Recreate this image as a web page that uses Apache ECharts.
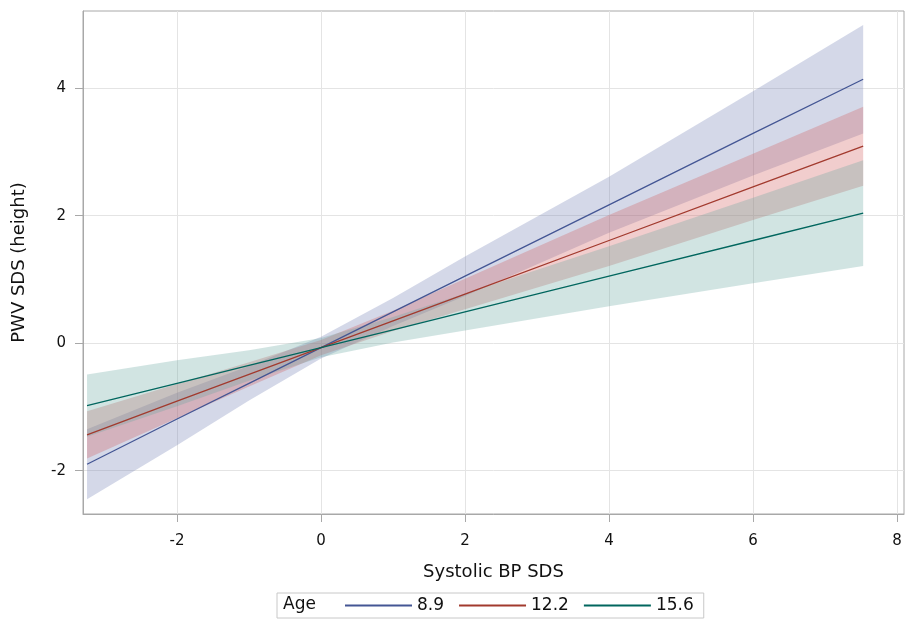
<!DOCTYPE html>
<html><head><meta charset="utf-8">
<script src="https://cdn.jsdelivr.net/npm/echarts@6/dist/echarts.min.js"></script>
<style>html,body{margin:0;padding:0;background:#fff}#c{width:908px;height:627px}</style>
</head><body><div id="c"></div>
<script>
// ---- data ----
const xValues = [-3.25, -2, -1, 0, 1, 2, 4, 6, 7.53];

const age89Fit   = [-1.90, -1.19, -0.63, -0.07, 0.49, 1.05, 2.17, 3.29, 4.14];
const age89Lower = [-2.45, -1.60, -0.90, -0.24, 0.27, 0.74, 1.73, 2.63, 3.29];
const age89Upper = [-1.35, -0.78, -0.36, 0.10, 0.71, 1.36, 2.61, 3.95, 4.99];

const age122Fit   = [-1.44, -0.91, -0.49, -0.07, 0.35, 0.77, 1.61, 2.45, 3.09];
const age122Lower = [-1.81, -1.18, -0.68, -0.19, 0.19, 0.53, 1.21, 1.93, 2.47];
const age122Upper = [-1.07, -0.64, -0.30, 0.05, 0.51, 1.01, 2.01, 2.97, 3.71];

const age156Fit   = [-0.98, -0.63, -0.35, -0.07, 0.21, 0.49, 1.05, 1.61, 2.04];
const age156Lower = [-1.47, -0.99, -0.59, -0.22, 0.01, 0.20, 0.58, 0.94, 1.21];
const age156Upper = [-0.49, -0.27, -0.11, 0.08, 0.41, 0.78, 1.52, 2.28, 2.87];

const ageNames = ['8.9', '12.2', '15.6'];
const xTicks = [-2, 0, 2, 4, 6, 8];
const yTicks = [-2, 0, 2, 4];
const xTitle = 'Systolic BP SDS';
const yTitle = 'PWV SDS (height)';
const legendTitle = 'Age';

// ---- styling ----
const lineColors = ['#445694', '#A23A2E', '#01665E'];
const bandColors = ['rgba(111,126,179,0.30)', 'rgba(208,91,91,0.30)', 'rgba(102,165,160,0.30)'];
const FONT = '"DejaVu Sans", Verdana, sans-serif';

function band(name, lower, upper, color) {
  return {
    type: 'custom', name: name, silent: true, z: 1,
    data: xValues.map((x, i) => [x, lower[i], upper[i]]),
    encode: { x: 0, y: [1, 2] },
    renderItem: function (params, api) {
      if (params.dataIndex !== 0) return null;
      const pts = [];
      for (let i = 0; i < xValues.length; i++) pts.push(api.coord([xValues[i], upper[i]]));
      for (let i = xValues.length - 1; i >= 0; i--) pts.push(api.coord([xValues[i], lower[i]]));
      return { type: 'polygon', shape: { points: pts }, style: { fill: color, stroke: null } };
    }
  };
}
function fit(name, values, color) {
  return {
    type: 'line', name: name, z: 5, showSymbol: false, symbol: 'none', silent: true,
    data: xValues.map((x, i) => [x, values[i]]),
    lineStyle: { color: color, width: 1.3 }, itemStyle: { color: color }
  };
}

const chart = echarts.init(document.getElementById('c'), null, { renderer: 'canvas' });
chart.setOption({
  animation: false,
  backgroundColor: '#fff',
  grid: { left: 83, right: 4, top: 11, bottom: 113, show: true, borderColor: '#a8a8a8', borderWidth: 1, backgroundColor: 'transparent' },
  xAxis: {
    type: 'value', min: -3.306, max: 8.097,
    name: xTitle, nameLocation: 'middle', nameGap: 49,
    nameTextStyle: { fontFamily: FONT, fontSize: 18, color: '#111' },
    axisLine: { show: true, onZero: false, lineStyle: { color: '#a8a8a8' } },
    axisTick: { show: true, length: 8, customValues: xTicks, lineStyle: { color: '#a8a8a8' } },
    axisLabel: { customValues: xTicks, margin: 20, fontFamily: FONT, fontSize: 15, color: '#111' },
    splitLine: { show: true, lineStyle: { color: '#e4e4e4', width: 1 } }
  },
  yAxis: {
    type: 'value', min: -2.68, max: 5.21,
    name: yTitle, nameLocation: 'middle', nameGap: 55,
    nameTextStyle: { fontFamily: FONT, fontSize: 18, color: '#111' },
    axisLine: { show: true, onZero: false, lineStyle: { color: '#a8a8a8' } },
    axisTick: { show: true, length: 8, customValues: yTicks, lineStyle: { color: '#a8a8a8' } },
    axisLabel: { customValues: yTicks, margin: 17, fontFamily: FONT, fontSize: 15, color: '#111' },
    splitLine: { show: true, lineStyle: { color: '#e4e4e4', width: 1 } }
  },
  legend: {
    data: ageNames, left: 277, top: 593, orient: 'horizontal',
    padding: [4, 10, 4, 68], itemGap: 15, itemWidth: 67, itemHeight: 2, icon: 'rect',
    borderColor: '#c8c8c8', borderWidth: 1, selectedMode: false,
    textStyle: { fontFamily: FONT, fontSize: 17, color: '#111' }
  },
  graphic: [{
    type: 'text', left: 283, top: 596, silent: true,
    style: { text: legendTitle, font: '17px ' + FONT, fill: '#111' }
  }],
  series: [
    band('band89', age89Lower, age89Upper, bandColors[0]),
    band('band122', age122Lower, age122Upper, bandColors[1]),
    band('band156', age156Lower, age156Upper, bandColors[2]),
    fit(ageNames[0], age89Fit, lineColors[0]),
    fit(ageNames[1], age122Fit, lineColors[1]),
    fit(ageNames[2], age156Fit, lineColors[2])
  ]
});
</script></body></html>
